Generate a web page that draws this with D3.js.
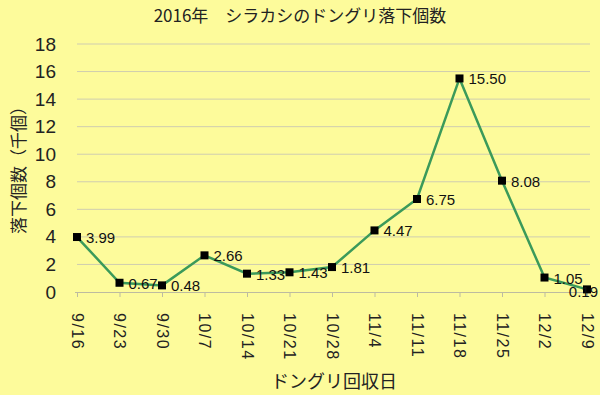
<!DOCTYPE html>
<html>
<head>
<meta charset="utf-8">
<script src="https://cdn.jsdelivr.net/npm/d3@7"></script>
<style>
body { margin: 0; background: #fdfb9b; }
svg { display: block; }
</style>
</head>
<body>
<div id="chart"></div>
<script>
// data
const dates = ["9/16", "9/23", "9/30", "10/7", "10/14", "10/21", "10/28", "11/4", "11/11", "11/18", "11/25", "12/2", "12/9"];
const counts = [3.99, 0.67, 0.48, 2.66, 1.33, 1.43, 1.81, 4.47, 6.75, 15.50, 8.08, 1.05, 0.19];
const yTicks = [0, 2, 4, 6, 8, 10, 12, 14, 16, 18];

const width = 600, height = 395;
const margin = {top: 44, right: 13, bottom: 103, left: 77};

const svg = d3.select("#chart")
.append("svg")
.attr("width", width)
.attr("height", height);

svg.append("rect")
.attr("width", width)
.attr("height", height)
.attr("fill", "#fdfb9b");

const font = "'Noto Sans CJK JP', 'Liberation Sans', sans-serif";

const xScale = d3.scalePoint()
.domain(dates)
.range([margin.left, width - margin.right]);

const yScale = d3.scaleLinear()
.domain([0, 18])
.range([height - margin.bottom, margin.top]);

// grid lines
svg.append("g")
.selectAll("line")
.data(yTicks.slice(1))
.enter()
.append("line")
.attr("x1", margin.left)
.attr("x2", width - 10)
.attr("y1", (d) => yScale(d))
.attr("y2", (d) => yScale(d))
.attr("stroke", "#cfcdb0")
.attr("stroke-width", 1);

// y axis (labels only)
const yAxis = d3.axisLeft(yScale).tickValues(yTicks).tickSize(0).tickPadding(0);
const yAxisSvg = svg.append("g")
.attr("transform", `translate(${margin.left - 21}, 0)`)
.call(yAxis);
yAxisSvg.select(".domain").remove();
yAxisSvg.selectAll("text")
.attr("font-family", "'Liberation Sans Narrow', 'Liberation Sans', sans-serif")
.attr("font-size", "19px")
.attr("fill", "#222");

// x axis
const xAxis = d3.axisBottom(xScale).tickSize(5).tickPadding(0);
const xAxisSvg = svg.append("g")
.attr("transform", `translate(0, ${yScale(0)})`)
.call(xAxis);
xAxisSvg.select(".domain")
.attr("d", `M${margin.left - 2},0.5H${width - 10}`)
.attr("stroke", "#bdbba0");
xAxisSvg.selectAll(".tick line").attr("stroke", "#bdbba0");
xAxisSvg.selectAll(".tick text")
.attr("font-family", "'Liberation Sans', sans-serif")
.attr("font-size", "16px")
.attr("fill", "#222")
.attr("letter-spacing", "1.5px")
.attr("text-anchor", "start")
.attr("dy", "0.35em")
.attr("y", 0)
.attr("transform", "translate(0, 21) rotate(90)");

// line
const line = d3.line()
.x((d, i) => xScale(dates[i]))
.y((d) => yScale(d));

svg.append("path")
.datum(counts)
.attr("d", line)
.attr("fill", "none")
.attr("stroke", "#3b9a5a")
.attr("stroke-width", 2.5);

// markers
const ms = 8;
svg.append("g")
.selectAll("rect")
.data(counts)
.enter()
.append("rect")
.attr("x", (d, i) => xScale(dates[i]) - ms / 2)
.attr("y", (d) => yScale(d) - ms / 2)
.attr("width", ms)
.attr("height", ms)
.attr("fill", "#000");

// data labels, pulled back inside when they would run off the right edge
const labels = svg.append("g")
.selectAll("text")
.data(counts)
.enter()
.append("text")
.attr("x", (d, i) => xScale(dates[i]) + 9)
.attr("y", (d) => yScale(d) + 2)
.attr("dominant-baseline", "middle")
.attr("font-family", "'Liberation Sans', sans-serif")
.attr("font-size", "15px")
.attr("fill", "#111")
.text((d) => d.toFixed(2));

labels.each(function() {
    const bb = this.getBBox();
    if (bb.x + bb.width > width - 2) {
        d3.select(this)
        .attr("x", width - 2)
        .attr("text-anchor", "end")
        .attr("y", +d3.select(this).attr("y") + 2);
    }
});

// title
svg.append("text")
.attr("x", 300)
.attr("y", 22)
.attr("text-anchor", "middle")
.attr("font-family", font)
.attr("font-size", "17px")
.attr("fill", "#222")
.text("2016年　シラカシのドングリ落下個数");

// y title
svg.append("text")
.attr("transform", `translate(25, 166) rotate(-90)`)
.attr("text-anchor", "middle")
.attr("font-family", font)
.attr("font-size", "17px")
.attr("fill", "#222")
.text("落下個数（千個）");

// x title
svg.append("text")
.attr("x", 334)
.attr("y", 388)
.attr("text-anchor", "middle")
.attr("font-family", font)
.attr("font-size", "18px")
.attr("fill", "#222")
.text("ドングリ回収日");
</script>
</body>
</html>
